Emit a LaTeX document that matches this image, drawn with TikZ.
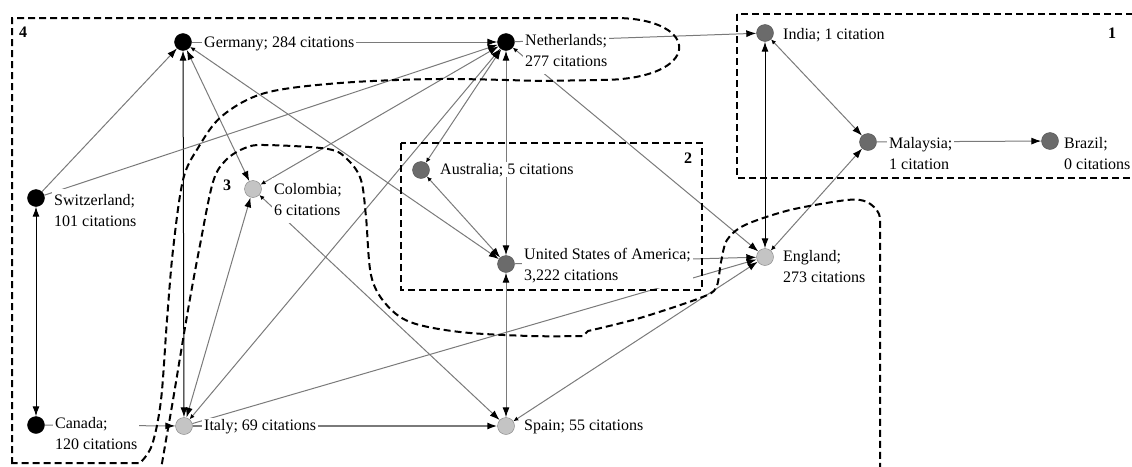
\documentclass[tikz,border=0pt]{standalone}
\usepackage{fontspec}
\setmainfont{Liberation Serif}
\usetikzlibrary{arrows.meta}
\definecolor{linkgray}{HTML}{7A7A7A}
\definecolor{nodedark}{HTML}{6B6B6B}
\definecolor{nodelight}{HTML}{C4C4C4}
\newcommand\lbltwo[2]{\begin{tabular}[t]{@{}l@{}}#1\\#2\end{tabular}}
\begin{document}
\begin{tikzpicture}[x=1pt,y=-1pt,
  hubnode/.style={circle,minimum size=17pt,inner sep=0pt,fill=black,draw=black},
  midnode/.style={circle,minimum size=17pt,inner sep=0pt,fill=nodedark,draw=nodedark!75!black},
  leafnode/.style={circle,minimum size=17pt,inner sep=0pt,fill=nodelight,draw=gray},
  lbl/.style={anchor=base west,fill=white,inner xsep=2pt,inner ysep=1pt,
    font=\fontsize{16}{21.5}\selectfont},
  grplbl/.style={anchor=base west,inner sep=0pt,font=\fontsize{16}{18}\selectfont\bfseries},
  link/.style={draw=linkgray,line width=1pt,-{Latex[length=10pt,width=7pt,color=black]}},
  twoway/.style={link,{Latex[length=10pt,width=7pt,color=black]}-{Latex[length=10pt,width=7pt,color=black]}},
  srctick/.style={link,{Latex[length=5pt,width=4.5pt,color=black]}-{Latex[length=10pt,width=7pt,color=black]}},
  grpline/.style={draw=black,line width=2pt,dash pattern=on 7pt off 4pt}
]
\useasboundingbox (0,0) rectangle (1132,466);
\clip (0,0) rectangle (1132,466);

% countries
\node[hubnode] (ge) at (183,42) {};
\node[hubnode] (nl) at (506,42) {};
\node[hubnode] (sw) at (36,198) {};
\node[hubnode] (ca) at (36,425) {};
\node[midnode] (in) at (765,33) {};
\node[midnode] (ma) at (868,142) {};
\node[midnode] (br) at (1050,141) {};
\node[midnode] (au) at (421,170) {};
\node[midnode] (us) at (506,264) {};
\node[leafnode] (co) at (253,189) {};
\node[leafnode] (it) at (184,426) {};
\node[leafnode] (sp) at (506,426) {};
\node[leafnode] (en) at (765,257) {};

% citation links
\draw[twoway,draw=black] (ca) -- (sw);
\draw[twoway,draw=black] (it) -- (ge);
\draw[twoway] (ge) -- (co);
\draw[twoway] (co) -- (it);
\draw[twoway] (nl) -- (us);
\draw[twoway] (us) -- (sp);
\draw[twoway,draw=black] (in) -- (en);
\draw[link] (ge) -- (nl);
\draw[link] (sw) -- (ge);
\draw[link] (sw) -- (nl);
\draw[srctick] (co) -- (nl);
\draw[srctick] (it) -- (nl);
\draw[srctick] (au) -- (nl);
\draw[srctick] (ge) -- (us);
\draw[srctick] (au) -- (us);
\draw[srctick] (nl) -- (en);
\draw[link] (nl) -- (in);
\draw[srctick] (in) -- (ma);
\draw[srctick] (en) -- (ma);
\draw[link] (ma) -- (br);
\draw[link] (us) -- (en);
\draw[link] (it) -- (en);
\draw[srctick] (sp) -- (en);
\draw[link] (ca) -- (it);
\draw[link,line width=1.5pt] (it) -- (sp);
\draw[srctick] (co) -- (sp);

% labels
\node[lbl] (ge-t) at (202,47) {Germany; 284 citations};
\node[lbl] (nl-t) at (523,45) {\lbltwo{Netherlands;}{277 citations}};
\node[lbl] (in-t) at (781,39) {India; 1 citation};
\node[lbl] (ma-t) at (887,148) {\lbltwo{Malaysia;}{1 citation}};
\node[lbl] (br-t) at (1062,148) {\lbltwo{Brazil;}{0 citations}};
\node[lbl] (sw-t) at (52,205) {\lbltwo{Switzerland;}{101 citations}};
\node[lbl] (co-t) at (272,194) {\lbltwo{Colombia;}{6 citations}};
\node[lbl] (au-t) at (438,174) {Australia; 5 citations};
\node[lbl] (us-t) at (522,259) {\lbltwo{United States of America;}{3,222 citations}};
\node[lbl] (en-t) at (781,261) {\lbltwo{England;}{273 citations}};
\node[lbl] (ca-t) at (53,428) {\lbltwo{Canada;}{120 citations}};
\node[lbl] (it-t) at (202,430) {Italy; 69 citations};
\node[lbl] (sp-t) at (522,430) {Spain; 55 citations};

% clusters
\draw[grpline] (737,14) rectangle (1145,178);
\draw[grpline] (401,143) rectangle (702,290);
\draw[grpline] (12,475) -- (12,18) -- (615,18)
  .. controls (702,18) and (704,80) .. (600,80)
  -- plot[smooth,tension=0.55] coordinates {(540,81) (440,79) (340,83) (265,93)
     (222,116) (198,148) (183,180) (173,250) (167,320) (161,400) (152,445) (140,463)}
  -- (12,463);
\draw[grpline] plot[smooth,tension=0.55] coordinates {(160,475) (166,440) (173,400)
     (188,310) (200,245) (213,182) (226,160) (245,148) (265,145) (328,149) (348,160)
     (361,180) (366,217) (371,275) (385,303) (410,322) (460,332) (530,336) (583,336)}
  -- plot[smooth,tension=0.5] coordinates {(588,331) (640,318) (700,298) (716,288)
     (721,262) (727,240) (745,225) (790,210) (847,200) (867,202) (879,214) (880,235)}
  -- (880,475);
\node[grplbl] (g1) at (1108,38) {1};
\node[grplbl] (g2) at (684,163) {2};
\node[grplbl] (g3) at (223,190) {3};
\node[grplbl] (g4) at (19,37) {4};
\end{tikzpicture}
\end{document}
